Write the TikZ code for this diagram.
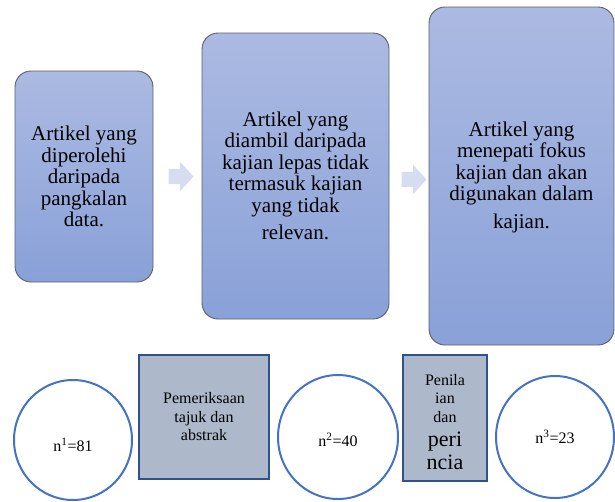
\documentclass[tikz,border=0pt]{standalone}
\usepackage{fontspec}
\setmainfont{Liberation Serif}
\usetikzlibrary{shapes.geometric,shapes.arrows}
\definecolor{boxtop}{RGB}{172,186,226}
\definecolor{boxbot}{RGB}{137,161,216}
\definecolor{boxline}{RGB}{90,96,110}
\definecolor{arrowc}{RGB}{214,221,240}
\definecolor{sqfill}{RGB}{173,185,202}
\definecolor{sqline}{RGB}{47,82,143}
\definecolor{circline}{RGB}{68,114,196}
\tikzset{
  bigbox/.style={draw=boxline, line width=0.9pt, rounded corners=16pt,
    top color=boxtop, bottom color=boxbot, align=center, inner sep=0pt,
    font=\fontsize{21}{21.5}\selectfont},
  flowarrow/.style={single arrow, fill=arrowc, draw=none, inner sep=0pt,
    minimum width=29pt, minimum height=25pt, single arrow head extend=7pt,
    single arrow tip angle=95, text height=15pt},
  sqbox/.style={draw=sqline, line width=2pt, fill=sqfill, align=center, inner sep=0pt,
    font=\fontsize{16}{18.5}\selectfont},
  circ/.style={ellipse, draw=circline, line width=2pt, fill=white, inner sep=0pt,
    font=\fontsize{16}{18}\selectfont}
}
\begin{document}
\begin{tikzpicture}[x=1pt,y=-1pt]
\useasboundingbox (0,0) rectangle (615,501);
% big boxes
\node[bigbox, minimum width=138pt, minimum height=211pt] (b1) at (84,176.5)
  {Artikel yang\\diperolehi\\daripada\\pangkalan\\data.};
\node[bigbox, minimum width=187pt, minimum height=286pt] (b2) at (295.5,176)
  {Artikel yang\\diambil daripada\\kajian lepas tidak\\termasuk kajian\\yang tidak\\[6pt]relevan.};
\node[bigbox, minimum width=185pt, minimum height=338pt] (b3) at (521.5,176) {};
\node[align=center, inner sep=0pt, font=\fontsize{21}{21.5}\selectfont] (t3) at (521.5,177)
  {Artikel yang\\menepati fokus\\kajian dan akan\\digunakan dalam\\[6pt]kajian.};
% arrows
\node[flowarrow] (a1) at (177.5,176.5) {};
\node[flowarrow] (a2) at (410.5,179.5) {};
% bottom row
\node[circ, minimum width=118pt, minimum height=120pt] (c1) at (73,440) {};
\node[font=\fontsize{16}{18}\selectfont, inner sep=0pt] (l1) at (73,445) {n\textsuperscript{1}=81};
\node[sqbox, minimum width=130pt, minimum height=124pt] (s1) at (204,417)
  {Pemeriksaan\\tajuk dan\\abstrak};
\node[circ, minimum width=120pt, minimum height=124pt] (c2) at (338,437) {};
\node[font=\fontsize{16}{18}\selectfont, inner sep=0pt] (l2) at (338,440) {n\textsuperscript{2}=40};
\node[sqbox, minimum width=84pt, minimum height=126pt] (s2) at (445,418) {};
\node[align=center, inner sep=0pt, font=\fontsize{16}{18.5}\selectfont] (t2) at (445,422)
  {Penila\\ian\\dan\\[6pt]{\fontsize{22}{22}\selectfont peri}\\[3pt]{\fontsize{22}{22}\selectfont ncia}};
\node[circ, minimum width=118pt, minimum height=122pt] (c3) at (555,437) {};
\node[font=\fontsize{16}{18}\selectfont, inner sep=0pt] (l3) at (555,437) {n\textsuperscript{3}=23};
\end{tikzpicture}
\end{document}
